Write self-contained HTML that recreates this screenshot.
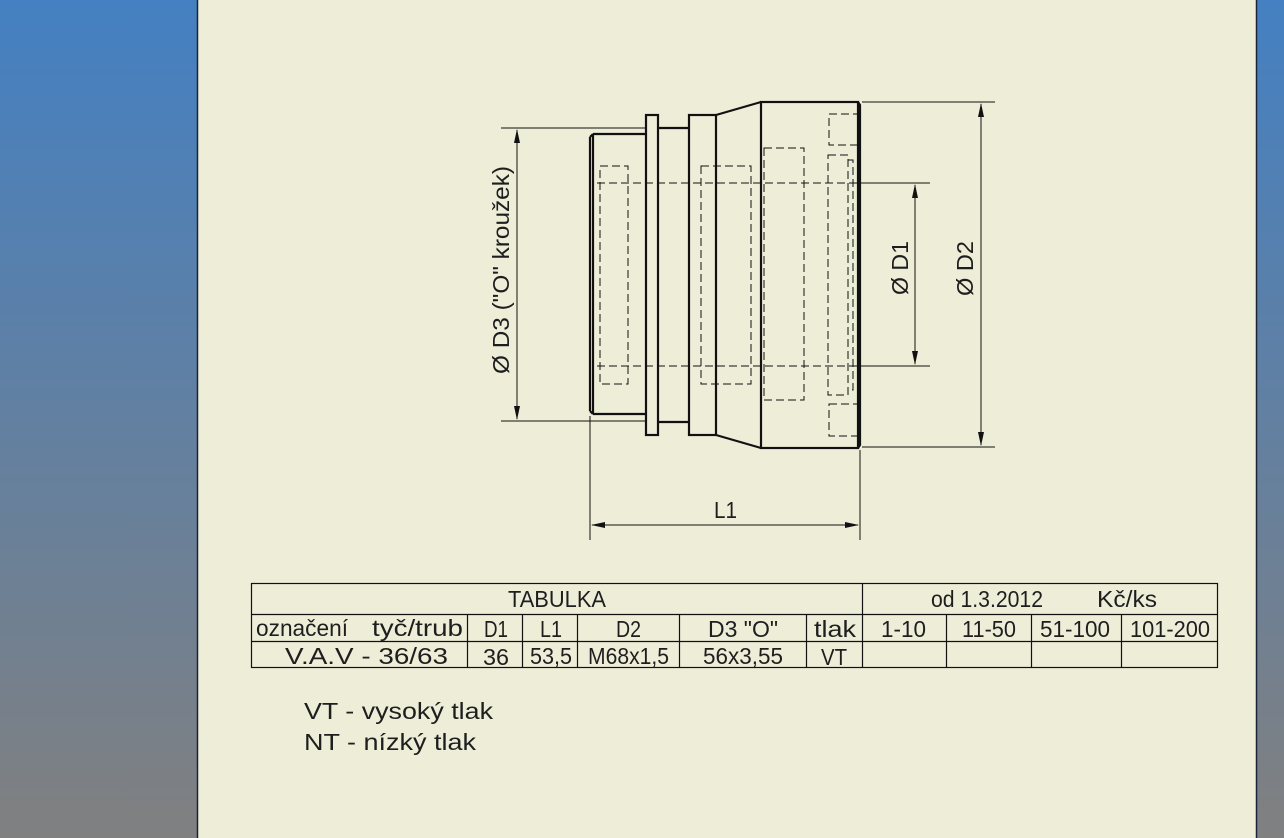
<!DOCTYPE html>
<html><head><meta charset="utf-8"><style>
html,body{margin:0;padding:0;width:1284px;height:838px;overflow:hidden;background:linear-gradient(#4480c2,#808080);}
svg{position:absolute;left:0;top:0}
text{font-family:"Liberation Sans Narrow","Liberation Sans",sans-serif;fill:#1e1e1e;font-size:23px}
</style></head><body>
<svg width="1284" height="838" viewBox="0 0 1284 838">
<rect x="197" y="0" width="1060" height="838" fill="#eeedd8"/>
<line x1="197.5" y1="0" x2="197.5" y2="838" stroke="#1a2338" stroke-width="1.5"/>
<line x1="1256.5" y1="0" x2="1256.5" y2="838" stroke="#1a2338" stroke-width="1.5"/>
<g fill="none" stroke="#111" stroke-width="2.2">
<path d="M593,134 L645,134 M593,414 L645,414 M590,137 L590,411 M590,137 L593,134 M590,411 L593,414 M593,134 L593,414"/>
<rect x="646" y="115" width="12" height="320"/>
<path d="M658,128 L689,128 M658,422 L689,422"/>
<rect x="689" y="115" width="27" height="320"/>
<path d="M716,115 L761,102 M716,435 L761,448"/>
<rect x="761" y="102" width="97" height="346"/>
<path d="M858,102 L860,105 L860,445 L858,448"/>
</g>
<g fill="none" stroke="#111" stroke-width="1" stroke-dasharray="8,4">
<rect x="600" y="166" width="28" height="218"/>
<rect x="701" y="166" width="50" height="218"/>
<rect x="764" y="148" width="40" height="252"/>
<rect x="828" y="155" width="20" height="240"/>
<path d="M848,160 L853,160 L853,390 L848,390"/>
<rect x="829" y="114" width="29" height="31"/>
<rect x="829" y="404" width="29" height="32"/>
<path d="M597,183 L858,183 M597,366 L858,366"/>
</g>
<g stroke="#111" stroke-width="1" fill="none">
<path d="M501,128 L645,128 M501,421 L645,421 M517,130 L517,419"/>
<path d="M858,183 L930,183 M858,366 L930,366 M915,185 L915,364"/>
<path d="M862,102 L995,102 M862,447 L995,447 M981,104 L981,445"/>
<path d="M590,416 L590,540 M860,450 L860,540 M592,525 L858,525"/>
</g>
<g fill="#111">
<path d="M517,129 l-3,14 l6,0z M517,420 l-3,-14 l6,0z"/>
<path d="M915,184 l-3,14 l6,0z M915,365 l-3,-14 l6,0z"/>
<path d="M981,103 l-3,14 l6,0z M981,446 l-3,-14 l6,0z"/>
<path d="M591,525 l14,-3 l0,6z M859,525 l-14,-3 l0,6z"/>
</g>
<text transform="translate(509,374) rotate(-90)" textLength="208" lengthAdjust="spacingAndGlyphs">Ø D3 ("O" kroužek)</text>
<text transform="translate(908,295) rotate(-90)" textLength="54" lengthAdjust="spacingAndGlyphs">Ø D1</text>
<text transform="translate(973,296) rotate(-90)" textLength="55" lengthAdjust="spacingAndGlyphs">Ø D2</text>
<text x="714" y="518" textLength="23" lengthAdjust="spacingAndGlyphs">L1</text>
<g stroke="#111" stroke-width="1.2" fill="none">
<rect x="251.5" y="583.5" width="966" height="84"/>
<path d="M251,614.5 L1217,614.5 M251,641.5 L1217,641.5 M862.5,583 L862.5,667"/>
<path d="M467.5,614 V667 M522.5,614 V667 M577.5,614 V667 M679.5,614 V667 M806.5,614 V667 M946.5,614 V667 M1031.5,614 V667 M1121.5,614 V667"/>
</g>
<text x="508" y="607" textLength="98" lengthAdjust="spacingAndGlyphs">TABULKA</text>
<text x="931" y="607" textLength="112" lengthAdjust="spacingAndGlyphs">od 1.3.2012</text>
<text x="1097" y="607" textLength="60" lengthAdjust="spacingAndGlyphs">Kč/ks</text>
<text x="256" y="636" textLength="92" lengthAdjust="spacingAndGlyphs">označení</text>
<text x="372" y="636" textLength="91" lengthAdjust="spacingAndGlyphs">tyč/trub</text>
<text x="484" y="637" textLength="24" lengthAdjust="spacingAndGlyphs">D1</text>
<text x="540" y="637" textLength="22" lengthAdjust="spacingAndGlyphs">L1</text>
<text x="616" y="637" textLength="25" lengthAdjust="spacingAndGlyphs">D2</text>
<text x="708" y="637" textLength="70" lengthAdjust="spacingAndGlyphs">D3 "O"</text>
<text x="814" y="637" textLength="42" lengthAdjust="spacingAndGlyphs">tlak</text>
<text x="881" y="637" textLength="45" lengthAdjust="spacingAndGlyphs">1-10</text>
<text x="962" y="637" textLength="54" lengthAdjust="spacingAndGlyphs">11-50</text>
<text x="1040" y="637" textLength="70" lengthAdjust="spacingAndGlyphs">51-100</text>
<text x="1130" y="637" textLength="80" lengthAdjust="spacingAndGlyphs">101-200</text>
<text x="285" y="664" textLength="163" lengthAdjust="spacingAndGlyphs">V.A.V - 36/63</text>
<text x="483" y="665" textLength="26" lengthAdjust="spacingAndGlyphs">36</text>
<text x="530" y="664" textLength="42" lengthAdjust="spacingAndGlyphs">53,5</text>
<text x="588" y="664" textLength="81" lengthAdjust="spacingAndGlyphs">M68x1,5</text>
<text x="703" y="664" textLength="80" lengthAdjust="spacingAndGlyphs">56x3,55</text>
<text x="821" y="665" textLength="26" lengthAdjust="spacingAndGlyphs">VT</text>
<text x="304" y="719" textLength="189" lengthAdjust="spacingAndGlyphs">VT - vysoký tlak</text>
<text x="304" y="750" textLength="172" lengthAdjust="spacingAndGlyphs">NT - nízký tlak</text>
</svg>
</body></html>
